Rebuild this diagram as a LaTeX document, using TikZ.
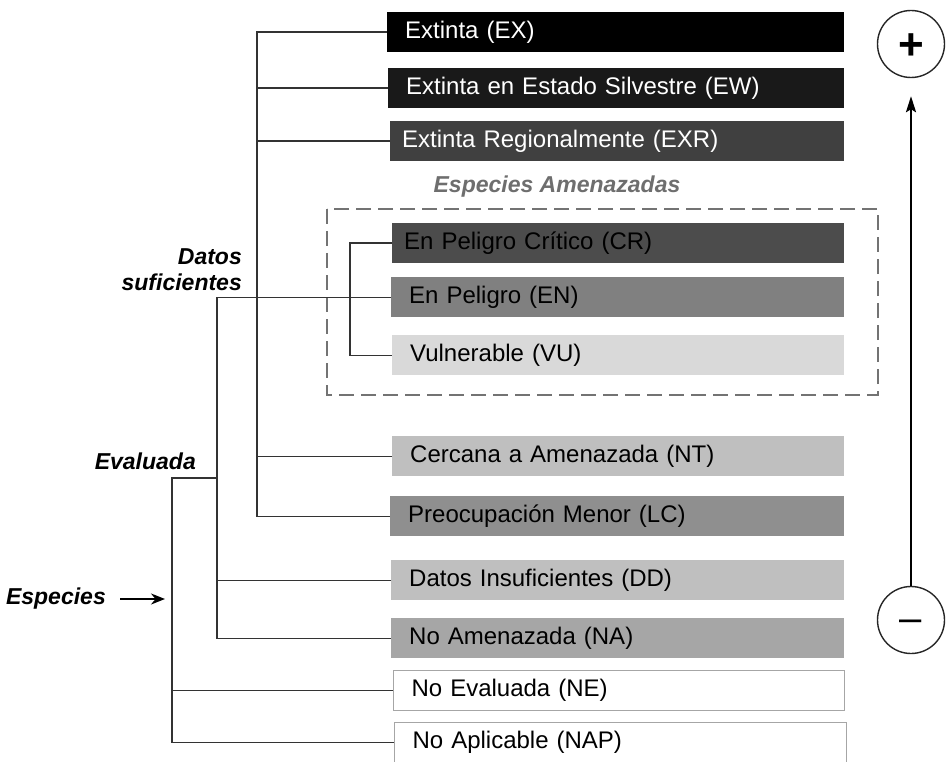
\documentclass[tikz,border=0pt]{standalone}
\usepackage{fontspec}
\setmainfont{Liberation Sans}
\usetikzlibrary{arrows.meta}

\newcommand{\catfont}{\fontsize{24}{28}\selectfont}
\newcommand{\grpfont}{\fontsize{23}{26}\selectfont\bfseries\itshape}

\begin{document}
\begin{tikzpicture}[
		x=1pt, y=-1pt,
		catbox/.style={anchor=north west, minimum height=40pt, text width=#1, inner xsep=18pt, inner ysep=0pt, align=left, font=\catfont},
		catbox/.default=417pt,
		grplabel/.style={font=\grpfont, align=right, inner sep=0pt},
		branch/.style={draw=black!80, line width=1.4pt},
		dashbox/.style={draw=black!55, line width=2pt, dash pattern=on 15pt off 7pt},
		endcircle/.style={circle, draw=black!85, line width=1.4pt, minimum size=67pt, inner sep=0pt}
		]
		\useasboundingbox (0,0) rectangle (948,762);
		% Categories
		\node[catbox=421pt, fill=black, text=white] (ex) at (387,12) {Extinta (EX)};
		\node[catbox=420pt, fill=black!90, text=white] (ew) at (388,68) {Extinta en Estado Silvestre (EW)};
		\node[catbox=430pt, fill=black!75, text=white, inner xsep=12pt] (exr) at (390,121) {Extinta Regionalmente (EXR)};
		\node[font=\grpfont, text=black!57] (amen) at (557,187) {Especies Amenazadas};
		\draw[dashbox] (327,209) rectangle (878,395);
		\node[catbox=428pt, fill=black!70, inner xsep=12pt] (cr) at (392,223) {En Peligro Crítico (CR)};
		\node[catbox, fill=black!50] (en) at (391,277) {En Peligro (EN)};
		\node[catbox=416pt, fill=black!15] (vu) at (392,335) {Vulnerable (VU)};
		\node[catbox=416pt, fill=black!25] (nt) at (392,436) {Cercana a Amenazada (NT)};
		\node[catbox=418pt, fill=black!44] (lc) at (390,496) {Preocupación Menor (LC)};
		\node[catbox, fill=black!25] (dd) at (391,560) {Datos Insuficientes (DD)};
		\node[catbox, fill=black!35] (na) at (391,618) {No Amenazada (NA)};
		\node[catbox=415pt, draw=black!35, line width=1.2pt, fill=white] (ne) at (393,670) {No Evaluada (NE)};
		\node[catbox=416pt, draw=black!35, line width=1.2pt, fill=white] (nap) at (394,722) {No Aplicable (NAP)};
		% Group labels
		\node[grplabel, anchor=east] (suflbl) at (242,270) {Datos\\suficientes};
		\node[grplabel, anchor=east] (evalbl) at (196,461) {Evaluada};
		\node[grplabel, anchor=east] (esplbl) at (106,599) {Especies};
		% Junctions
		\coordinate (suf) at (257,305);
		\coordinate (thr) at (350,305);
		\coordinate (eva) at (217,478);
		\coordinate (esp) at (172,478);
		% Tree
		\draw[branch] (ex.west) -| (suf |- lc.west) -- (lc.west);
		\foreach \c in {ew,exr,nt}
			\draw[branch] (\c.west) -- (\c.west -| suf);
		\draw[branch] (cr.west) -| (thr |- vu.west) -- (vu.west);
		\draw[branch] (en.west -| eva) -- (en.west);
		\draw[branch] (en.west -| eva) |- (na.west);
		\draw[branch] (dd.west) -- (dd.west -| eva);
		\draw[branch] (eva) -- (esp) |- (nap.west);
		\draw[branch] (ne.west) -- (ne.west -| esp);
		\draw[line width=1.8pt, -{Stealth[length=14pt, width=11pt]}] ([xshift=14pt]esplbl.east) -- ([xshift=-7pt]esp |- esplbl.east);
		% Scale
		\node[endcircle, font=\fontsize{44}{44}\selectfont\bfseries, text height=31pt, text depth=0pt] (more) at (911,44) {+};
		\node[endcircle, font=\fontsize{40}{40}\selectfont, text height=22pt, text depth=0pt] (less) at (911,620) {–};
		\draw[line width=2.4pt, -{Stealth[length=16pt, width=10pt, inset=3pt]}] (less.north) -- ([yshift=-18pt]more.south);
		\end{tikzpicture}
\end{document}
